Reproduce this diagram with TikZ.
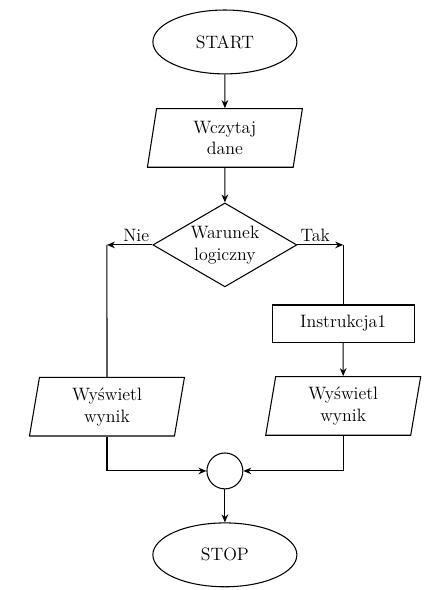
\documentclass[tikz,border=0pt]{standalone}
\usepackage{fontspec}
\usetikzlibrary{shapes.geometric,arrows.meta}
\tikzset{
  term/.style={draw,ellipse,minimum width=3.81cm,minimum height=1.69cm},
  io/.style={draw,trapezium,trapezium left angle=78,trapezium right angle=102,
    trapezium stretches body,minimum width=4.1cm,minimum height=1.55cm,align=center},
  decision/.style={draw,diamond,aspect=1.7,inner sep=1pt,minimum width=3.81cm,
    minimum height=2.22cm,align=center},
  proc/.style={draw,rectangle,minimum width=3.76cm,minimum height=0.98cm},
  zlacze/.style={draw,circle,minimum size=0.95cm,inner sep=0pt}
}
\begin{document}
\begin{tikzpicture}[line width=0.8pt,>={Stealth[length=6pt,width=5pt]},
  font=\fontsize{13.5}{16.5}\selectfont]
\useasboundingbox (0,0) rectangle (11.59,15.61);
\node[term] (start) at (5.95,14.50) {START};
\node[io] (wczytaj) at (5.95,11.96) {Wczytaj\\dane};
\node[decision] (warunek) at (5.95,9.13) {Warunek\\logiczny};
\node[proc] (instr) at (9.08,7.05) {Instrukcja1};
\node[io] (wynikp) at (9.08,4.87) {Wyświetl\\wynik};
\node[io] (wynikl) at (2.83,4.85) {Wyświetl\\wynik};
\node[zlacze] (zbieg) at (5.95,3.15) {};
\node[term] (stop) at (5.95,0.93) {STOP};
\coordinate (nie) at (warunek.west -| wynikl);
\coordinate (tak) at (warunek.east -| instr);
\draw[->] (start) -- (wczytaj);
\draw[->] (wczytaj) -- (warunek);
\draw[->] (warunek.west) -- (nie);
\draw (nie) -- (wynikl);
\draw[->] (warunek.east) -- (tak);
\draw (tak) -- (instr);
\draw[->] (instr) -- (wynikp);
\draw[->] (wynikl) |- (zbieg);
\draw[->] (wynikp) |- (zbieg);
\draw[->] (zbieg) -- (stop);
\node[above left,inner sep=2pt] at (warunek.west) {Nie};
\node[above right,inner sep=2pt] at (warunek.east) {Tak};
\end{tikzpicture}
\end{document}
